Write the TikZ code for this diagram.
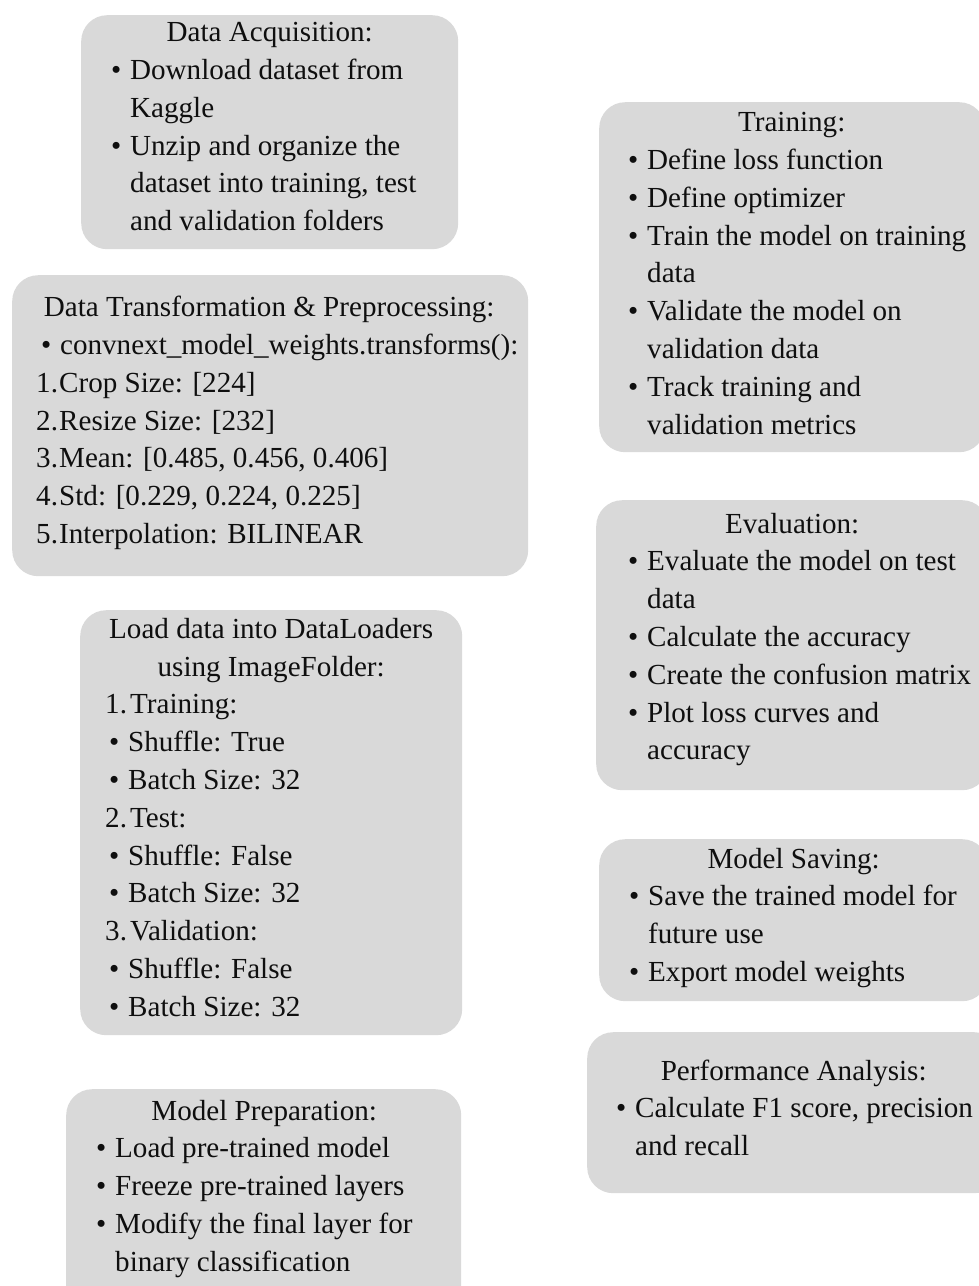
\documentclass[tikz,border=0pt]{standalone}
\usepackage{fontspec}
\setmainfont{Liberation Serif}
\definecolor{boxgray}{RGB}{217,217,217}
\definecolor{txtgray}{RGB}{15,15,15}
\tikzset{%
    box/.style={rectangle, fill=boxgray, rounded corners=26pt, inner sep=0pt,
    	anchor=north west},
    txt/.style={inner sep=0pt, anchor=base west, text=txtgray,
    	font=\fontsize{29.1pt}{37.8pt}\selectfont}
}
\newcommand{\ttl}[1]{\makebox[\linewidth]{#1}\par}
\newcommand{\bul}[2][0pt]{\mbox{\hspace*{#1}\makebox[15pt][l]{\hspace*{-4pt}\textbullet}#2}\par}
\newcommand{\cont}[1]{\mbox{\hspace*{15pt}#1}\par}
\newcommand{\numit}[3][24pt]{\mbox{\makebox[#1][l]{#2}#3}\par}

\begin{document}
\begin{tikzpicture}[x=1pt, y=-1pt]
  \useasboundingbox (0,0) rectangle (979,1286);

  \node (b1) [box, minimum width=377pt, minimum height=234pt] at (81,15) {};
  \node (b2) [box, minimum width=516pt, minimum height=301pt] at (12,275) {};
  \node (b3) [box, minimum width=382pt, minimum height=425pt] at (80,610) {};
  \node (b4) [box, minimum width=395pt, minimum height=230pt] at (66,1089) {};
  \node (b5) [box, minimum width=386pt, minimum height=350pt] at (599,102) {};
  \node (b6) [box, minimum width=392pt, minimum height=290pt] at (596,500) {};
  \node (b7) [box, minimum width=389pt, minimum height=162pt] at (599,839) {};
  \node (b8) [box, minimum width=413pt, minimum height=161pt] at (587,1032) {};

  \node (t1) [txt] at ([shift={(34,26.7)}]b1.north west) {\parbox[t]{309pt}{%
    \ttl{Data Acquisition:}
    \bul{Download dataset from}
    \cont{Kaggle}
    \bul{Unzip and organize the}
    \cont{dataset into training, test}
    \cont{and validation folders}}};

  \node (t2) [txt] at ([shift={(24,41.7)}]b2.north west) {\parbox[t]{466pt}{%
    \ttl{Data Transformation \& Preprocessing:}
    \bul[9pt]{convnext\_model\_weights.transforms():}
    \numit[23pt]{1.}{Crop Size: [224]}
    \numit[23pt]{2.}{Resize Size: [232]}
    \numit[23pt]{3.}{Mean: [0.485, 0.456, 0.406]}
    \numit[23pt]{4.}{Std: [0.229, 0.224, 0.225]}
    \numit[23pt]{5.}{Interpolation: BILINEAR}}};

  \node (t3) [txt] at ([shift={(25,28.3)}]b3.north west) {\parbox[t]{332pt}{%
    \ttl{Load data into DataLoaders}
    \ttl{using ImageFolder:}
    \numit[25pt]{1.}{Training:}
    \bul[8pt]{Shuffle: True}
    \bul[8pt]{Batch Size: 32}
    \numit[25pt]{2.}{Test:}
    \bul[8pt]{Shuffle: False}
    \bul[8pt]{Batch Size: 32}
    \numit[25pt]{3.}{Validation:}
    \bul[8pt]{Shuffle: False}
    \bul[8pt]{Batch Size: 32}}};

  \node (t4) [txt] at ([shift={(34,31)}]b4.north west) {\parbox[t]{328pt}{%
    \ttl{Model Preparation:}
    \bul{Load pre-trained model}
    \bul{Freeze pre-trained layers}
    \bul{Modify the final layer for}
    \cont{binary classification}}};

  \node (t5) [txt] at ([shift={(33,29.7)}]b5.north west) {\parbox[t]{319pt}{%
    \ttl{Training:}
    \bul{Define loss function}
    \bul{Define optimizer}
    \bul{Train the model on training}
    \cont{data}
    \bul{Validate the model on}
    \cont{validation data}
    \bul{Track training and}
    \cont{validation metrics}}};

  \node (t6) [txt] at ([shift={(36,33)}]b6.north west) {\parbox[t]{320pt}{%
    \ttl{Evaluation:}
    \bul{Evaluate the model on test}
    \cont{data}
    \bul{Calculate the accuracy}
    \bul{Create the confusion matrix}
    \bul{Plot loss curves and}
    \cont{accuracy}}};

  \node (t7) [txt] at ([shift={(34,29)}]b7.north west) {\parbox[t]{321pt}{%
    \ttl{Model Saving:}
    \bul{Save the trained model for}
    \cont{future use}
    \bul{Export model weights}}};

  \node (t8) [txt] at ([shift={(33,48)}]b8.north west) {\parbox[t]{347pt}{%
    \ttl{Performance Analysis:}
    \bul{Calculate F1 score, precision}
    \cont{and recall}}};
\end{tikzpicture}
\end{document}
